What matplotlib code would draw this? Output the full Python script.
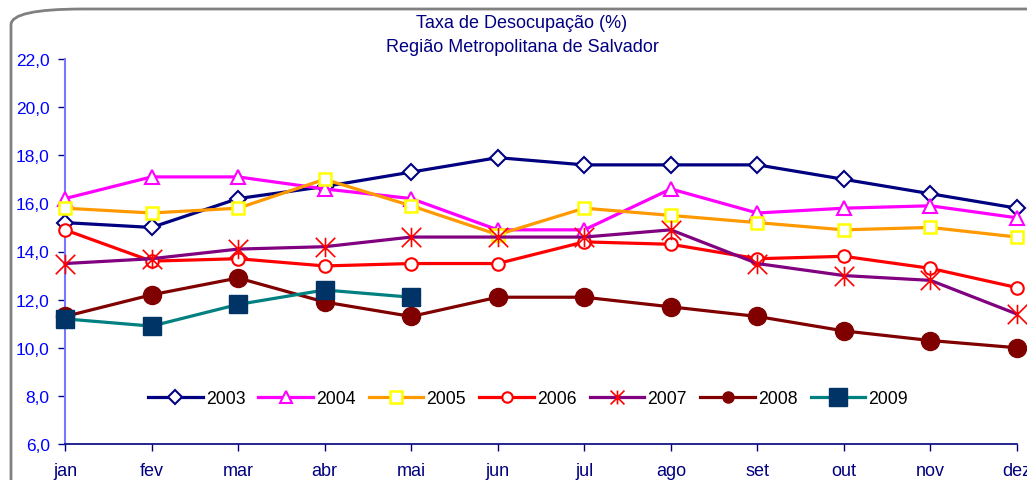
import matplotlib.pyplot as plt
from matplotlib.patches import FancyBboxPatch
from matplotlib.path import Path

plt.rcParams['font.family'] = ['Liberation Sans', 'DejaVu Sans']

months = ['jan', 'fev', 'mar', 'abr', 'mai', 'jun', 'jul', 'ago', 'set', 'out', 'nov', 'dez']

y2003 = [15.2, 15.0, 16.2, 16.7, 17.3, 17.9, 17.6, 17.6, 17.6, 17.0, 16.4, 15.8]
y2004 = [16.2, 17.1, 17.1, 16.6, 16.2, 14.9, 14.9, 16.6, 15.6, 15.8, 15.9, 15.4]
y2005 = [15.8, 15.6, 15.8, 17.0, 15.9, 14.7, 15.8, 15.5, 15.2, 14.9, 15.0, 14.6]
y2006 = [14.9, 13.6, 13.7, 13.4, 13.5, 13.5, 14.4, 14.3, 13.7, 13.8, 13.3, 12.5]
y2007 = [13.5, 13.7, 14.1, 14.2, 14.6, 14.6, 14.6, 14.9, 13.5, 13.0, 12.8, 11.4]
y2008 = [11.3, 12.2, 12.9, 11.9, 11.3, 12.1, 12.1, 11.7, 11.3, 10.7, 10.3, 10.0]
y2009 = [11.2, 10.9, 11.8, 12.4, 12.1]

yticks = [6, 8, 10, 12, 14, 16, 18, 20, 22]

# excel-like star marker: vertical bar plus an X
star = Path([(0, -1), (0, 1), (-1, -1), (1, 1), (-1, 1), (1, -1)],
            [Path.MOVETO, Path.LINETO, Path.MOVETO, Path.LINETO, Path.MOVETO, Path.LINETO])

series = [
    ('2003', y2003, dict(color='#000080', marker='D', ms=8.5, mfc='white', mec='#000080', mew=1.5)),
    ('2004', y2004, dict(color='#FF00FF', marker='^', ms=10, mfc='white', mec='#FF00FF', mew=1.5)),
    ('2005', y2005, dict(color='#FF9900', marker='s', ms=8, mfc='white', mec='#FFFF00', mew=1.8)),
    ('2006', y2006, dict(color='#FF0000', marker='o', ms=9, mfc='white', mec='#FF0000', mew=1.5)),
    ('2007', y2007, dict(color='#800080', marker=star, ms=14, mfc='none', mec='#FF0000', mew=1.2)),
    ('2008', y2008, dict(color='#800000', marker='o', ms=13, mfc='#800000', mec='#800000')),
    ('2009', y2009, dict(color='#008080', marker='s', ms=13.5, mfc='#003366', mec='#003366')),
]
# marker sizes used in the legend keys
legend_ms = [7, 9, 8, 7.5, 10, 8, 12.5]

fig = plt.figure(figsize=(10.27, 4.81), dpi=100)
frame = FancyBboxPatch((11 / 1027, -0.2), 1.2, 1.2 - 10 / 481,
                       boxstyle='round,pad=0,rounding_size=0.07',
                       transform=fig.transFigure, fc='white', ec='#808080', lw=2,
                       mutation_aspect=481 / 1027, zorder=-10)
fig.patches.append(frame)

ax = fig.add_axes([65 / 1027, 36 / 481, 952 / 1027, 385 / 481])
ax.patch.set_alpha(0)
x = list(range(len(months)))
for i, (name, vals, kw) in enumerate(series):
    ax.plot(x[:len(vals)], vals, lw=2.3, label=name, clip_on=False, zorder=3 + i, **kw)

ax.set_xlim(0, 11)
ax.set_ylim(6, 22)
ax.set_yticks(yticks)
ax.set_yticklabels([('%.1f' % v).replace('.', ',') for v in yticks])
ax.set_xticks(x)
ax.set_xticklabels(months)
ax.tick_params(axis='y', colors='#0000FF', labelsize=12.5, length=5, width=1, pad=6)
ax.tick_params(axis='y', color='#000080')
ax.tick_params(axis='x', colors='#000080', labelsize=13, length=5, width=1, pad=8)
for s in ['top', 'right']:
    ax.spines[s].set_visible(False)
ax.spines['left'].set_color('#7777FF')
ax.spines['left'].set_linewidth(1.5)
ax.spines['bottom'].set_color('#000080')
ax.spines['bottom'].set_linewidth(1.2)

fig.text(522 / 1027, 1 - 24 / 481, 'Taxa de Desocupação (%)', color='#000080',
         ha='center', va='center', fontsize=13)
fig.text(522 / 1027, 1 - 48 / 481, 'Região Metropolitana de Salvador', color='#000080',
         ha='center', va='center', fontsize=13)

leg = ax.legend(loc='center left', bbox_to_anchor=((148 - 65) / 952, (7.9 - 6) / 16), ncol=7,
                frameon=False, fontsize=12.7, handlelength=3.1, columnspacing=0.75,
                handletextpad=0.17, borderaxespad=0, borderpad=0)
for h, m in zip(leg.legend_handles, legend_ms):
    h.set_markersize(m)

fig.savefig('out.png', dpi=100)
